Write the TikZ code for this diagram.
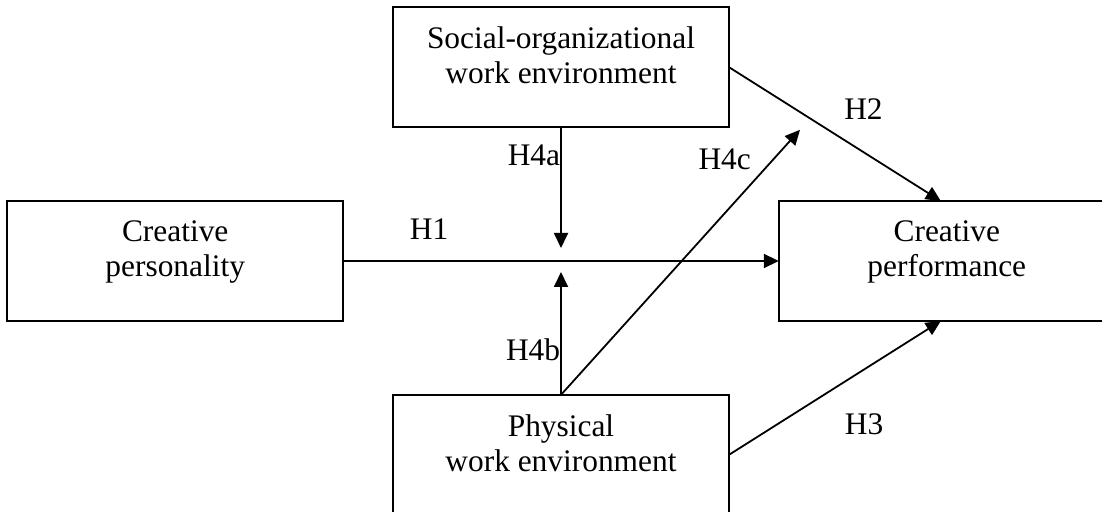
\documentclass[tikz,border=0pt]{standalone}
\usepackage{fontspec}
\setmainfont{Liberation Serif}
\usepackage{tikz}
\usetikzlibrary{matrix,arrows.meta,positioning}
\tikzset{
	var/.style={draw, minimum width=168pt, minimum height=60pt, inner sep=0pt, outer sep=0pt},
	vartxt/.style={anchor=north, align=center, inner sep=0pt, yshift=-9.5pt},
	hyp/.style={-{Triangle[length=7.5pt,width=7pt]}},
	hlab/.style={inner sep=0pt}
}

\begin{document}
\begin{tikzpicture}[line width=0.9pt, font=\fontsize{15.7pt}{17.5pt}\selectfont]
			\path[use as bounding box, clip] (0,0) rectangle (551pt,-256pt);
			\matrix (m) [row sep=36pt, column sep=24pt] at (280.5pt,-130.5pt)
			{
				& \node[var, label={[vartxt]north:Social-organizational\\work environment}] (social) {}; & \\
				\node[var, label={[vartxt]north:Creative\\personality}] (pers) {}; & & \node[var, label={[vartxt]north:Creative\\performance}] (perf) {}; \\
				& \node[var, label={[vartxt]north:Physical\\work environment}] (phys) {}; & \\
			};
			\coordinate (cross) at (social.south |- pers.east);
			\coordinate[above=6.5pt of cross] (ta);
			\coordinate[below=5.5pt of cross] (tb);
			\coordinate[above right=132.5pt and 119.5pt of phys.north] (c4);
			\path[hyp, nodes=hlab]
			(pers.east) edge node[pos=0.197, above=10.5pt]{H1} (perf.west)
			(social.south) edge node[pos=0.235, left]{H4a} (ta)
			(phys.north) edge node[pos=0.364, left]{H4b} (tb) edge node[pos=0.89, left=11pt]{H4c} (c4)
			(social.east) edge node[pos=0.635, above=16pt]{H2} ([xshift=-3pt]perf.north)
			(phys.east) edge node[pos=0.638, below=21.5pt]{H3} ([xshift=-3pt]perf.south);
		\end{tikzpicture}
\end{document}
